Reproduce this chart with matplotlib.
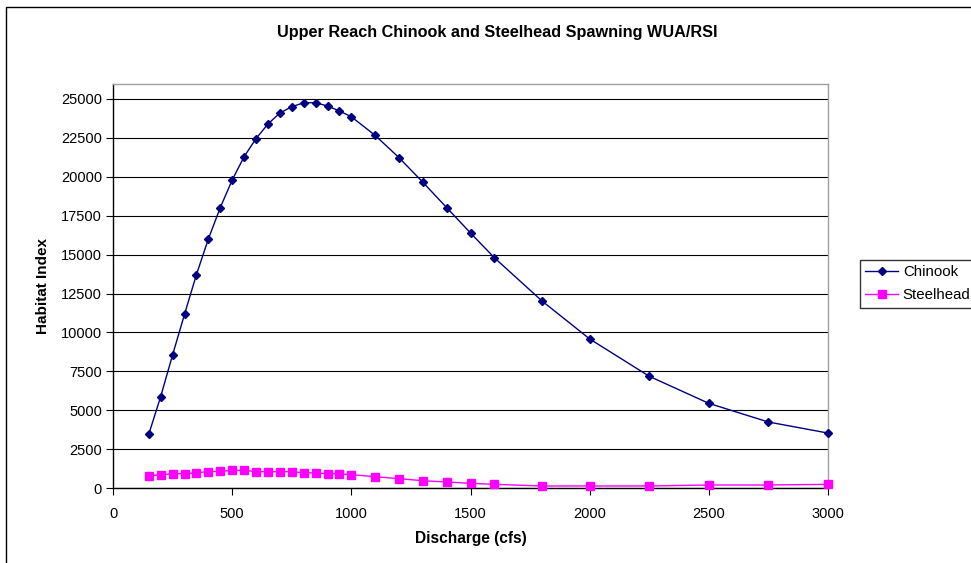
import matplotlib
matplotlib.use("Agg")
import matplotlib.pyplot as plt
from matplotlib.patches import Rectangle

discharge = [150, 200, 250, 300, 350, 400, 450, 500, 550, 600, 650, 700, 750, 800, 850,
             900, 950, 1000, 1100, 1200, 1300, 1400, 1500, 1600, 1800, 2000, 2250, 2500,
             2750, 3000]
chinook = [3450, 5870, 8550, 11160, 13710, 16000, 18020, 19790, 21290, 22450, 23390, 24100,
           24500, 24760, 24760, 24550, 24230, 23860, 22660, 21230, 19650, 18020, 16390,
           14800, 12020, 9580, 7180, 5440, 4240, 3530]
steelhead = [790, 850, 920, 920, 985, 1050, 1070, 1135, 1135, 1050, 1050, 1050, 1050, 985,
             965, 920, 920, 857, 728, 600, 470, 386, 300, 236, 129, 129, 129, 193, 193, 236]
x_ticks = [0, 500, 1000, 1500, 2000, 2500, 3000]
y_ticks = [0, 2500, 5000, 7500, 10000, 12500, 15000, 17500, 20000, 22500, 25000]

plt.rcParams['font.family'] = ['Liberation Sans', 'DejaVu Sans']

W, H = 971, 563
fig = plt.figure(figsize=(W / 100, H / 100), dpi=100)
fig.patch.set_facecolor('white')

# outer chart border (cropped at right/bottom)
fig.patches.append(Rectangle((5.5 / W, -0.1), 1.2, 1 - 7.5 / H + 0.1, transform=fig.transFigure,
                             fill=False, edgecolor='black', linewidth=1.0))

L, R, T, B = 113, 828, 84, 488
ax = fig.add_axes([L / W, 1 - B / H, (R - L) / W, (B - T) / H])
ymax = (B - T) / (B - 99) * 25000
ax.set_xlim(0, 3000)
ax.set_ylim(0, ymax)

ax.plot(discharge, chinook, color='#000080', marker='D', markersize=4.5, linewidth=1.0,
        label='Chinook', clip_on=False, zorder=3)
ax.plot(discharge, steelhead, color='#FF00FF', marker='s', markersize=5.5, linewidth=1.0,
        label='Steelhead', clip_on=False, zorder=3)

ax.set_xticks(x_ticks)
ax.set_yticks(y_ticks)
ax.set_xticklabels([str(v) for v in x_ticks])
ax.set_yticklabels([str(v) for v in y_ticks])
ax.tick_params(axis='both', direction='out', length=5, width=0.8, labelsize=10.5, color='black')
ax.tick_params(axis='x', pad=9)
ax.tick_params(axis='y', pad=3)
ax.grid(axis='y', color='black', linewidth=0.8)
ax.set_axisbelow(True)
for s in ['top', 'right']:
    ax.spines[s].set_color('#a0a0a0')
    ax.spines[s].set_linewidth(1.0)
for s in ['left', 'bottom']:
    ax.spines[s].set_color('black')
    ax.spines[s].set_linewidth(1.0)

ax.set_xlabel('Discharge (cfs)', fontsize=11.2, fontweight='bold', labelpad=7)
ax.set_ylabel('Habitat Index', fontsize=11, fontweight='bold', labelpad=8)
fig.text(497 / W, 1 - 33 / H, 'Upper Reach Chinook and Steelhead Spawning WUA/RSI',
         ha='center', va='center', fontsize=11.7, fontweight='bold')

leg = fig.legend(loc='upper left', bbox_to_anchor=(860 / W, 1 - 260 / H), frameon=True,
                 fancybox=False, edgecolor='black', fontsize=10.8, handlelength=2.2,
                 borderpad=0.35, labelspacing=0.6, handletextpad=0.3, borderaxespad=0)
leg.get_frame().set_linewidth(1.0)

fig.savefig('out.png', dpi=100)
